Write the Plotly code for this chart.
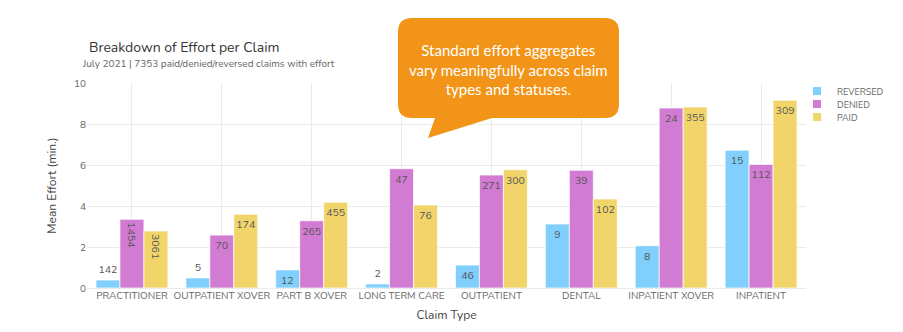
import plotly.graph_objects as go

categories = ["PRACTITIONER", "OUTPATIENT XOVER", "PART B XOVER", "LONG TERM CARE",
              "OUTPATIENT", "DENTAL", "INPATIENT XOVER", "INPATIENT"]
series_names = ["REVERSED", "DENIED", "PAID"]
reversed_effort = [0.39, 0.49, 0.88, 0.20, 1.12, 3.12, 2.06, 6.72]
denied_effort = [3.35, 2.58, 3.28, 5.82, 5.51, 5.74, 8.78, 6.03]
paid_effort = [2.78, 3.60, 4.18, 4.05, 5.77, 4.34, 8.83, 9.16]
reversed_counts = [142, 5, 12, 2, 46, 9, 8, 15]
denied_counts = [1454, 70, 265, 47, 271, 39, 24, 112]
paid_counts = [3061, 174, 455, 76, 300, 102, 355, 309]
y_ticks = [0, 2, 4, 6, 8, 10]

colors = ["#80CFFC", "#D27BD2", "#F2D56A"]
FONT = "Nunito, Lato, sans-serif"
W, H = 903, 332
L, R, T, B = 87, 97, 83, 44
pw, ph = W - L - R, H - T - B
BARGAP = 0.2
YMAX = 10


def px(x):
    return (x - L) / pw


def py(y):
    return (H - B - y) / ph


txtfont = dict(family=FONT, size=10.5, color="#555")
legend_names = ["legend", "legend2", "legend3"]
legend_y = [91, 104, 117]

fig = go.Figure()
n_series = len(series_names)
for i, (name, vals, cnts, col) in enumerate(zip(series_names,
                                 [reversed_effort, denied_effort, paid_effort],
                                 [reversed_counts, denied_counts, paid_counts], colors)):
    rot = [len(str(c)) >= 4 for c in cnts]
    bar_px_h = [v / YMAX * ph for v in vals]
    # label placement: inside if the bar is tall enough, tight-inside label if medium, else outside
    pos = []
    for h in bar_px_h:
        if h >= 20:
            pos.append("inside")
        elif h >= 15:
            pos.append("none")
        else:
            pos.append("outside")
    marker = dict(color=col, line=dict(color="rgba(255,255,255,0.7)", width=1))
    fig.add_trace(go.Bar(
        x=categories, y=[None if r else v for v, r in zip(vals, rot)], name=name,
        text=["" if r else str(c) for c, r in zip(cnts, rot)],
        textposition=pos,
        textangle=0, constraintext="none", insidetextanchor="end",
        insidetextfont=txtfont, outsidetextfont=txtfont, cliponaxis=False,
        marker=marker, offsetgroup=name, showlegend=False, hoverinfo="skip",
    ))
    for j, (p, v, c) in enumerate(zip(pos, vals, cnts)):
        if p == "none":
            offset = (i - (n_series - 1) / 2) * (1 - BARGAP) / n_series
            fig.add_annotation(x=j + offset, y=v, xref="x", yref="y", yanchor="top",
                               yshift=-1, showarrow=False, text=str(c), font=txtfont)
    if any(rot):
        fig.add_trace(go.Bar(
            x=categories, y=[v if r else None for v, r in zip(vals, rot)], name=name,
            text=[str(c) if r else "" for c, r in zip(cnts, rot)],
            textposition="inside", textangle=90, constraintext="none",
            insidetextanchor="end", insidetextfont=txtfont,
            marker=marker, offsetgroup=name, showlegend=False, hoverinfo="skip",
        ))
    fig.add_trace(go.Scatter(
        x=[None], y=[None], mode="markers", name=name, legend=legend_names[i],
        marker=dict(symbol="square", size=8, color=col), showlegend=True,
    ))

# callout shape
bx0, bx1, by0, by1, r = 398, 619, 18, 118, 14
rx, ry = r / pw, r / ph
X0, X1, Yt, Yb = px(bx0), px(bx1), py(by0), py(by1)
tail_l, tail_r, tip_x, tip_y = px(435), px(492), px(428), py(138)
path = (f"M {X0+rx},{Yt} L {X1-rx},{Yt} Q {X1},{Yt} {X1},{Yt-ry} "
        f"L {X1},{Yb+ry} Q {X1},{Yb} {X1-rx},{Yb} "
        f"L {tail_r},{Yb} L {tip_x},{tip_y} L {tail_l},{Yb} "
        f"L {X0+rx},{Yb} Q {X0},{Yb} {X0},{Yb+ry} "
        f"L {X0},{Yt-ry} Q {X0},{Yt} {X0+rx},{Yt} Z")
fig.add_shape(type="path", path=path, xref="paper", yref="paper",
              fillcolor="#F29417", line=dict(width=0), layer="above")

fig.add_annotation(x=px(508.5), y=py(70), xref="paper", yref="paper",
                   xanchor="center", yanchor="middle",
                   text="Standard effort aggregates<br>vary meaningfully across claim<br>types and statuses.",
                   showarrow=False, align="center",
                   font=dict(family="Lato, sans-serif", size=15, color="white"))

fig.add_annotation(x=px(87), y=py(47), xref="paper", yref="paper", xanchor="left",
                   yanchor="middle", showarrow=False, text="Breakdown of Effort per Claim",
                   font=dict(family=FONT, size=14, color="#333"))
fig.add_annotation(x=px(80), y=py(64), xref="paper", yref="paper", xanchor="left",
                   yanchor="middle", showarrow=False,
                   text="July 2021 | 7353 paid/denied/reversed claims with effort",
                   font=dict(family=FONT, size=10, color="#666"))

leg_common = dict(x=px(797), xanchor="left", yanchor="middle",
                  font=dict(family=FONT, size=9, color="#666"), bgcolor="rgba(0,0,0,0)")
fig.update_layout(
    width=W, height=H, margin=dict(l=L, r=R, t=T, b=B, autoexpand=False),
    paper_bgcolor="white", plot_bgcolor="white",
    barmode="group", bargap=BARGAP, bargroupgap=0,
    font=dict(family=FONT, color="#555"),
    legend=dict(y=py(legend_y[0]), **leg_common),
    legend2=dict(y=py(legend_y[1]), **leg_common),
    legend3=dict(y=py(legend_y[2]), **leg_common),
    xaxis=dict(showgrid=True, gridcolor="#ebebeb", tickfont=dict(size=10, color="#666"),
               title=dict(text="Claim Type", font=dict(size=12, color="#444"), standoff=8),
               showline=False, ticks=""),
    yaxis=dict(range=[0, YMAX], tickvals=y_ticks, showgrid=True, gridcolor="#ebebeb",
               zeroline=True, zerolinecolor="#ebebeb", zerolinewidth=1,
               tickfont=dict(size=10, color="#666"), ticks="",
               title=dict(text="Mean Effort (min.)", font=dict(size=12, color="#444"), standoff=14)),
)
fig.write_html("out.html")
